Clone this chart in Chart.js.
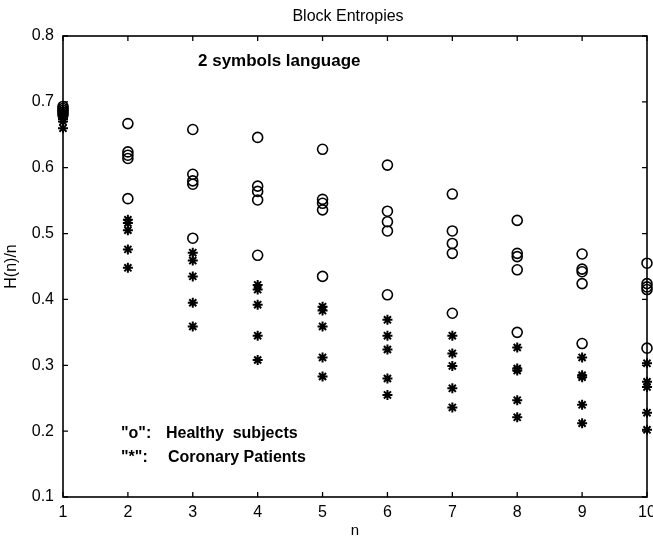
<!DOCTYPE html>
<html>
<head>
<meta charset="utf-8">
<title>Block Entropies</title>
<script src="https://cdn.jsdelivr.net/npm/chart.js@4/dist/chart.umd.min.js"></script>
<style>
  html, body { margin: 0; padding: 0; background: #fff; }
  #wrap { width: 653px; height: 541px; }
</style>
</head>
<body>
<div id="wrap"><canvas id="entropyChart" width="653" height="541"></canvas></div>
<script>
// block length n
const nValues = [1, 2, 3, 4, 5, 6, 7, 8, 9, 10];

// H(n)/n for the healthy subjects ("o"), one list per n
const healthy = [
  [0.693, 0.690, 0.687, 0.684, 0.680],
  [0.667, 0.624, 0.619, 0.614, 0.553],
  [0.658, 0.590, 0.580, 0.575, 0.493],
  [0.646, 0.572, 0.564, 0.551, 0.467],
  [0.628, 0.552, 0.546, 0.536, 0.435],
  [0.604, 0.534, 0.518, 0.504, 0.407],
  [0.560, 0.504, 0.485, 0.470, 0.379],
  [0.520, 0.470, 0.465, 0.445, 0.350],
  [0.469, 0.446, 0.442, 0.424, 0.333],
  [0.455, 0.424, 0.419, 0.415, 0.326]
];

// H(n)/n for the coronary patients ("*"), one list per n
const patients = [
  [0.686, 0.680, 0.674, 0.670, 0.660],
  [0.521, 0.516, 0.505, 0.476, 0.448],
  [0.471, 0.459, 0.435, 0.395, 0.359],
  [0.422, 0.415, 0.392, 0.345, 0.308],
  [0.389, 0.383, 0.359, 0.312, 0.283],
  [0.369, 0.345, 0.324, 0.280, 0.255],
  [0.345, 0.318, 0.299, 0.265, 0.236],
  [0.327, 0.295, 0.292, 0.247, 0.221],
  [0.312, 0.285, 0.282, 0.240, 0.212],
  [0.303, 0.275, 0.267, 0.228, 0.202]
];

const yTickValues = [0.1, 0.2, 0.3, 0.4, 0.5, 0.6, 0.7, 0.8];

function toPoints(groups) {
  const pts = [];
  groups.forEach((vals, i) => {
    vals.forEach((v) => pts.push({ x: nValues[i], y: v }));
  });
  return pts;
}

const FONT = "'Liberation Sans', Arial, sans-serif";

// box around the axes with inward ticks on all four sides (matlab look)
const framePlugin = {
  id: "frame",
  beforeDatasetsDraw(chart) {
    const { ctx, chartArea: a, scales } = chart;
    const tick = 5;
    ctx.save();
    ctx.strokeStyle = "#000";
    ctx.lineWidth = 1.6;
    ctx.strokeRect(a.left, a.top, a.right - a.left, a.bottom - a.top);
    ctx.lineWidth = 1.3;
    ctx.beginPath();
    nValues.forEach((n) => {
      const px = scales.x.getPixelForValue(n);
      ctx.moveTo(px, a.bottom);
      ctx.lineTo(px, a.bottom - tick);
      ctx.moveTo(px, a.top);
      ctx.lineTo(px, a.top + tick);
    });
    yTickValues.forEach((v) => {
      const py = scales.y.getPixelForValue(v);
      ctx.moveTo(a.left, py);
      ctx.lineTo(a.left + tick, py);
      ctx.moveTo(a.right, py);
      ctx.lineTo(a.right - tick, py);
    });
    ctx.stroke();
    ctx.restore();
  },
  afterDraw(chart) {
    const { ctx, chartArea: a } = chart;
    ctx.save();
    ctx.fillStyle = "#000";
    ctx.textBaseline = "alphabetic";

    // title, centred over the axes box
    ctx.font = "16px " + FONT;
    ctx.textAlign = "center";
    ctx.fillText("Block Entropies", (a.left + a.right) / 2 - 7, 21);

    ctx.textAlign = "left";
    ctx.font = "bold 17px " + FONT;
    ctx.fillText("2 symbols language", a.left + 135, a.top + 30);

    ctx.font = "bold 16px " + FONT;
    ctx.fillText('"o":', a.left + 58, a.bottom - 59);
    ctx.fillText("Healthy  subjects", a.left + 103, a.bottom - 59);
    ctx.fillText('"*":', a.left + 58, a.bottom - 35);
    ctx.fillText("Coronary Patients", a.left + 105, a.bottom - 35);
    ctx.restore();
  }
};

const ctx = document.getElementById("entropyChart").getContext("2d");

new Chart(ctx, {
  type: "scatter",
  data: {
    datasets: [
      {
        label: "Healthy subjects",
        data: toPoints(healthy),
        pointStyle: "circle",
        pointRadius: 5,
        pointBorderWidth: 1.6,
        borderColor: "#000",
        backgroundColor: "rgba(0,0,0,0)",
        clip: false
      },
      {
        label: "Coronary Patients",
        data: toPoints(patients),
        pointStyle: "star",
        pointRadius: 5,
        pointBorderWidth: 2,
        borderColor: "#000",
        backgroundColor: "#000",
        clip: false
      }
    ]
  },
  options: {
    responsive: false,
    animation: false,
    events: [],
    layout: {
      autoPadding: false,
      padding: { left: 0, right: 6, top: 36, bottom: 0 }
    },
    plugins: {
      legend: { display: false },
      tooltip: { enabled: false },
      title: { display: false }
    },
    scales: {
      x: {
        type: "linear",
        min: 1,
        max: 10,
        afterFit: (scale) => {
          scale.height = 44;
          // let the "10" label run past the frame like in the original
          scale.paddingLeft = 0;
          scale.paddingRight = 0;
        },
        afterBuildTicks: (scale) => {
          scale.ticks = nValues.map((n) => ({ value: n }));
        },
        grid: { display: false, drawTicks: false },
        border: { display: false },
        ticks: {
          color: "#000",
          padding: 6,
          maxRotation: 0,
          font: { family: FONT, size: 16 },
          callback: (v) => String(v)
        },
        title: {
          display: true,
          text: "n",
          color: "#000",
          font: { family: FONT, size: 15 },
          padding: { top: 0, bottom: 1 }
        }
      },
      y: {
        type: "linear",
        min: 0.1,
        max: 0.8,
        afterFit: (scale) => {
          scale.width = 63;
          scale.paddingTop = 0;
          scale.paddingBottom = 0;
        },
        afterBuildTicks: (scale) => {
          scale.ticks = yTickValues.map((v) => ({ value: v }));
        },
        grid: { display: false, drawTicks: false },
        border: { display: false },
        ticks: {
          color: "#000",
          padding: 9,
          font: { family: FONT, size: 16 },
          callback: (v) => v.toFixed(1)
        },
        title: {
          display: true,
          text: "H(n)/n",
          color: "#000",
          font: { family: FONT, size: 16 },
          padding: { top: 2, bottom: 2 }
        }
      }
    }
  },
  plugins: [framePlugin]
});
</script>
</body>
</html>
